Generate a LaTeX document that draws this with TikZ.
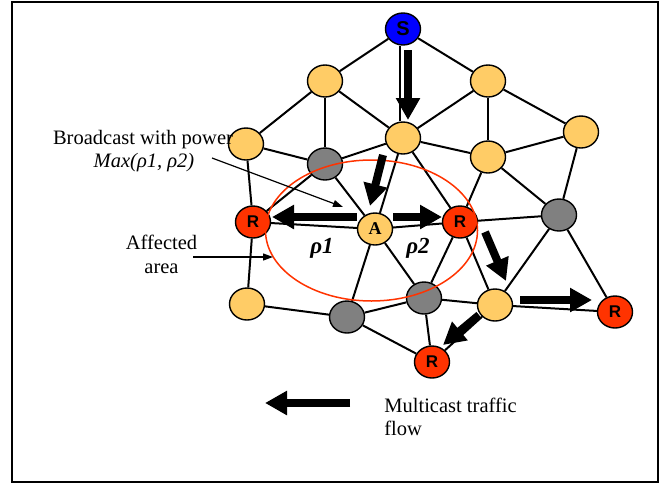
\documentclass[tikz,border=0pt]{standalone}
\usepackage{fontspec}
\setmainfont{Liberation Serif}
\newfontfamily\sansf{Liberation Sans}
\usetikzlibrary{shapes.geometric,arrows.meta}
\definecolor{nodeorange}{RGB}{255,204,102}
\definecolor{nodegray}{RGB}{128,128,128}
\definecolor{nodered}{RGB}{255,51,0}
\definecolor{nodeblue}{RGB}{0,0,255}
\definecolor{ringred}{RGB}{255,51,0}
\newcommand\lblsize{\fontsize{10.25}{11.5}\selectfont}
\begin{document}
\begin{tikzpicture}[x=0.5pt,y=-0.5pt,
  nd/.style={ellipse,draw=black,line width=0.7pt,minimum width=17.5pt,minimum height=16pt,inner sep=0pt},
  yel/.style={nd,fill=nodeorange},
  gry/.style={nd,fill=nodegray},
  rcv/.style={nd,fill=nodered,font=\sansf\bfseries\fontsize{8.5}{9}\selectfont},
  src/.style={nd,fill=nodeblue,font=\sansf\bfseries\fontsize{10}{11}\selectfont},
  ctr/.style={nd,fill=nodeorange,font=\bfseries\fontsize{9}{10}\selectfont},
  edge/.style={line width=1pt},
  flow/.style={line width=4pt,-{Triangle[length=11pt,width=11.5pt]}},
  pointer/.style={line width=0.6pt,-{Triangle[length=5pt,width=3.5pt]}},
  lbl/.style={font=\lblsize,inner sep=0pt},
  rho/.style={font=\bfseries\itshape\fontsize{11.5}{12}\selectfont,inner sep=0pt}
]
\useasboundingbox (0,0) rectangle (668,487);
\draw[line width=0.65pt] (12,2) rectangle (658,482);

% nodes
\node[src] (S) at (403,29) {S};
\node[yel] (Y1) at (325,81) {};
\node[yel] (Y2) at (488,81) {};
\node[yel] (Y3) at (403,138) {};
\node[yel] (Y4) at (246,144) {};
\node[gry] (G1) at (325,164) {};
\node[yel] (Y5) at (488,157) {};
\node[yel] (Y6) at (581,132) {};
\node[rcv] (R1) at (253,222) {R};
\node[ctr] (A) at (375,229) {A};
\node[rcv] (R2) at (460,222) {R};
\node[gry] (G2) at (559,215) {};
\node[yel] (Y7) at (247,304) {};
\node[gry] (G3) at (347,317) {};
\node[gry] (G4) at (424,298) {};
\node[yel] (Y8) at (495,305) {};
\node[rcv] (R3) at (615,312) {R};
\node[rcv] (R4) at (432,362) {R};

% edges
\draw[edge] (S) -- (Y1);
\draw[edge] ([xshift=-1.5pt]S.south) -- ([xshift=-1.5pt]Y3.north);
\draw[edge] (S) -- (Y2);
\draw[edge] (Y1) -- (Y4);
\draw[edge] (Y1) -- (G1);
\draw[edge] (Y1) -- (Y3);
\draw[edge] (Y2) -- (Y3);
\draw[edge] (Y2) -- (Y5);
\draw[edge] (Y2) -- (Y6);
\draw[edge] (Y4) -- (G1);
\draw[edge] (Y4) -- (R1);
\draw[edge] (G1) -- (Y3);
\draw[edge] (G1) -- (R1);
\draw[edge] (G1) -- (A);
\draw[edge] (Y3) -- (A);
\draw[edge] (Y3) -- (R2);
\draw[edge] (Y3) -- (Y5);
\draw[edge] (Y5) -- (Y6);
\draw[edge] (Y5) -- (R2);
\draw[edge] (Y5) -- (G2);
\draw[edge] (Y6) -- (G2);
\draw[edge] (R1) -- (A);
\draw[edge] (A) -- (R2);
\draw[edge] (R2) -- (G2);
\draw[edge] (R1) -- (Y7);
\draw[edge] (A) -- (G3);
\draw[edge] (A) -- (G4);
\draw[edge] (R2) -- (G4);
\draw[edge] (R2) -- (Y8);
\draw[edge] (G2) -- (Y8);
\draw[edge] (G2) -- (R3);
\draw[edge] (Y7) -- (G3);
\draw[edge] (G3) -- (G4);
\draw[edge] (G3) -- (R4);
\draw[edge] (G4) -- (Y8);
\draw[edge] (G4) -- (R4);
\draw[edge] (Y8) -- (R3);
\draw[edge] (Y8) -- (R4);

% affected area
\draw[ringred,line width=0.75pt] (371.5,230.5) ellipse [x radius=53pt, y radius=35.25pt];

% multicast flow arrows
\draw[flow] (408,50) -- (408,120);
\draw[flow] (383,155) -- (370,206);
\draw[flow] (357,217) -- (272,217);
\draw[flow] (393,217) -- (442,217);
\draw[flow] (485,232) -- (506,281);
\draw[flow] (520,300) -- (592,300);
\draw[flow] (479,315) -- (443,345);

% labels
\node[lbl,anchor=base] (bcast) at (143,144) {Broadcast with power};
\node[lbl,font=\lblsize\itshape,anchor=base] (maxp) at (144,167) {Max(ρ1, ρ2)};
\coordinate (maxtail) at (212,158);
\draw[pointer] (maxtail) -- (343,207);

\node[lbl,anchor=base] (aff1) at (161.5,249) {Affected};
\node[lbl,anchor=base] (aff2) at (161.5,273) {area};
\coordinate (afftail) at (193,257);
\draw[pointer] (afftail) -- (273,257);

\node[rho,anchor=base] (rho1) at (322,253) {ρ1};
\node[rho,anchor=base] (rho2) at (418,253) {ρ2};

% legend
\coordinate (legtail) at (350,403);
\coordinate (leghead) at (265,403);
\draw[flow] (legtail) -- (leghead);
\node[lbl,anchor=base west] (leg1) at (384,412) {Multicast traffic};
\node[lbl,anchor=base west] (leg2) at (384,435) {flow};
\end{tikzpicture}
\end{document}
